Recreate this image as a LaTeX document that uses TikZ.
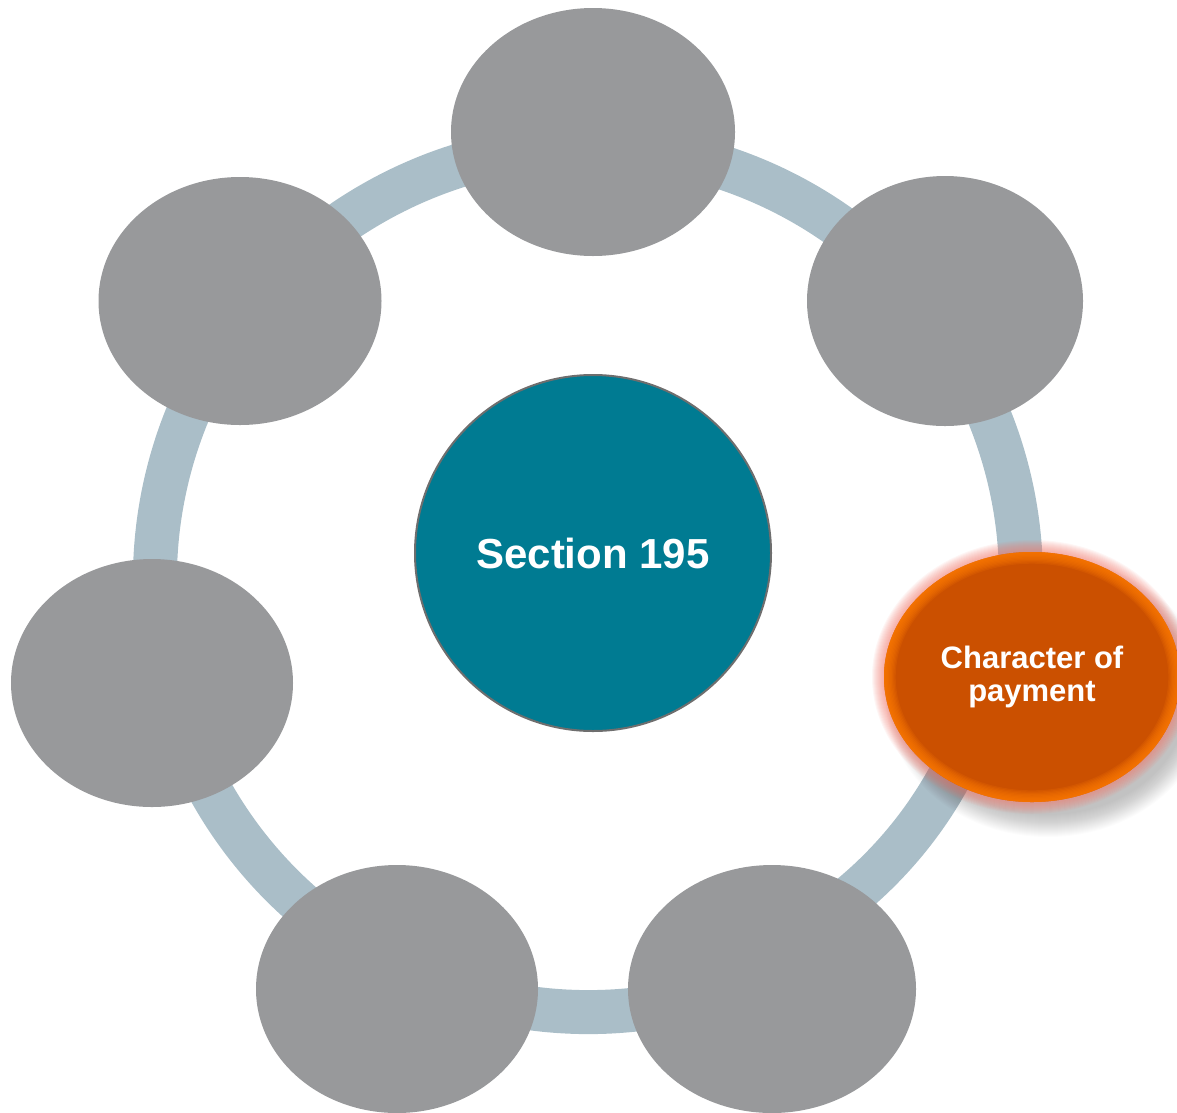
\documentclass[tikz,border=0pt]{standalone}
\usepackage{fontspec}
\setmainfont{Liberation Sans}
\usetikzlibrary{shapes.geometric}
\definecolor{ringc}{HTML}{AABEC8}
\definecolor{grayc}{HTML}{98999B}
\definecolor{tealc}{HTML}{007B92}
\definecolor{rimc}{HTML}{6E6E6E}
\definecolor{ordark}{HTML}{CB5000}
\definecolor{orbright}{HTML}{FF7C00}
\definecolor{glowc}{HTML}{F07A6E}
\begin{document}
\begin{tikzpicture}[x=1pt,y=-1pt,
  blob/.style={ellipse, fill=grayc, inner sep=0pt, minimum width=282pt, minimum height=248pt},
  hub/.style={circle, fill=tealc, draw=rimc, line width=2pt, inner sep=0pt, minimum size=356pt,
    text=white, font=\bfseries\fontsize{42}{48}\selectfont},
  hot/.style={ellipse, fill=ordark, inner sep=0pt, minimum width=296pt, minimum height=250pt,
    text=white, align=center, font=\bfseries\fontsize{31}{33}\selectfont,
    path picture={\foreach \k in {1,...,9}
      \draw[orbright, opacity=0.16, line width={2.6pt*\k}]
        (path picture bounding box.center) ellipse[x radius=148, y radius=125];}},
  band/.style={ringc, line width=44pt}]
\useasboundingbox (0,0) rectangle (1177,1112);
% ring (screen angles, clockwise)
\coordinate (rc) at (588,579);
\draw[band] ([shift={(62:433)}]rc) arc[start angle=62, end angle=372, radius=433];
\draw[band] ([shift={(10:412)}]rc) arc[start angle=10, end angle=72, radius=412];
% grey satellites
\node[blob, minimum width=284pt] (top) at (593,132) {};
\node[blob, minimum width=276pt, minimum height=250pt] (ur) at (945,301) {};
\node[blob, minimum width=283pt] (ul) at (240,301) {};
\node[blob] (lft) at (152,683) {};
\node[blob] (bl) at (397,989) {};
\node[blob, minimum width=288pt] (br) at (772,989) {};
% shadow and glow of the highlighted satellite
\foreach \i in {0,...,22}
  \fill[black, opacity=0.012] (1048,698) ellipse[x radius=140+\i, y radius=117+\i];
\foreach \i in {1,...,12}
  \fill[glowc, opacity=0.07] (1032,677) ellipse[x radius=148+\i, y radius=125+\i];
\node[hot] (char) at (1032,677) {Character of\\payment};
% centre
\node[hub] (hubn) at (593,553) {Section 195};
\end{tikzpicture}
\end{document}
